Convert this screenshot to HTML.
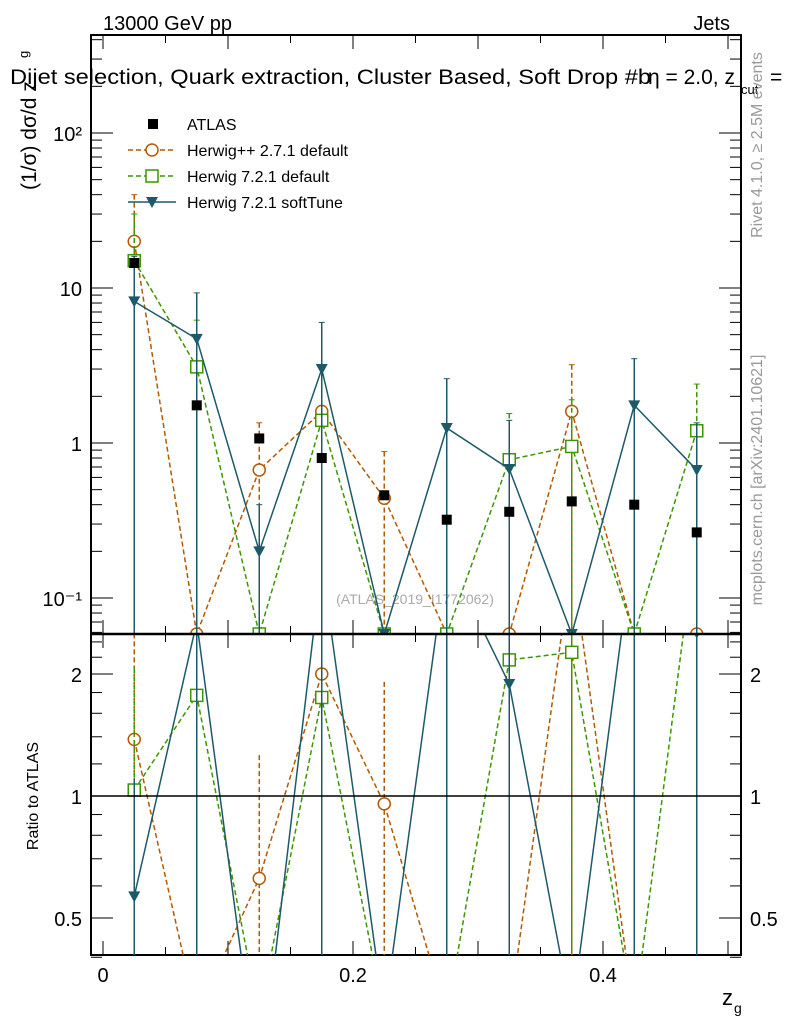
<!DOCTYPE html>
<html><head><meta charset="utf-8"><style>
html,body{margin:0;padding:0;background:#fff;overflow:hidden;width:786px;height:1024px;}
svg{display:block;font-family:"Liberation Sans",sans-serif;}
</style></head><body>
<svg id="c" width="786" height="1024" xmlns="http://www.w3.org/2000/svg"></svg>
<script>
const binCenters=[0.025,0.075,0.125,0.175,0.225,0.275,0.325,0.375,0.425,0.475];
const atlasVals=[14.5,1.75,1.07,0.8,0.46,0.32,0.36,0.42,0.40,0.265];
const hppVals=[20,0,0.67,1.6,0.44,0,0,1.6,0,0];
const hppErrUp=[40,0,1.35,1.6,0.88,0,0,3.2,0,0];
const h7Vals=[15,3.1,0,1.4,0,0,0.78,0.95,0,1.2];
const h7ErrUp=[30,6.2,0,1.4,0,0,1.55,1.9,0,2.4];
const softVals=[8.2,4.7,0.2,3.0,0,1.25,0.68,0,1.75,0.67];
const softErrUp=[16,9.3,0.4,6.0,0,2.6,1.4,0,3.5,1.35];
const xTicks=[0,0.2,0.4];
const yTicks=[[0.1,"10\u207B\u00B9"],[1,"1"],[10,"10"],[100,"10\u00B2"]];
const rTicks=[0.5,1,2];

const NS="http://www.w3.org/2000/svg";
const svg=document.getElementById('c');
const L=91,R=741,T=35,MB=634,RB=955;
const X=v=>103+(v)*1250;
const Y=v=>443-155*Math.log10(v);
const Yr=v=>796-122*Math.log2(v);
function el(tag,attrs,parent){const e=document.createElementNS(NS,tag);for(const k in attrs)e.setAttribute(k,attrs[k]);(parent||svg).appendChild(e);return e;}
function txt(s,attrs,parent){const e=el('text',attrs,parent);e.textContent=s;return e;}

const defs=el('defs',{});
const c1=el('clipPath',{id:'cm'},defs);el('rect',{x:L,y:T,width:R-L,height:MB-T},c1);
const c2=el('clipPath',{id:'cr'},defs);el('rect',{x:L,y:MB,width:R-L,height:RB-MB},c2);
const c3=el('clipPath',{id:'cp'},defs);el('rect',{x:0,y:0,width:786,height:1024},c3);

let t=txt("13000 GeV pp",{x:103,y:30,'font-size':20});

t=txt("Jets",{x:730,y:30,'font-size':20,'text-anchor':'end'});

const tg=el('g',{'clip-path':'url(#cp)'});
t=txt("Dijet selection, Quark extraction, Cluster Based, Soft Drop #b",{x:10,y:84,'font-size':21,textLength:641,lengthAdjust:'spacingAndGlyphs'},tg);

t=txt("\u03B7 = 2.0, z",{x:648,y:84,'font-size':21},tg);

t=txt("cut",{x:741,y:94,'font-size':13},tg);

t=txt("=",{x:770,y:84,'font-size':21},tg);

t=txt("(1/\u03C3) d\u03C3/d z",{x:0,y:0,'font-size':21,transform:'translate(36,190) rotate(-90)'});

t=txt("g",{x:0,y:0,'font-size':13,transform:'translate(28,58) rotate(-90)'});

t=txt("Rivet 4.1.0, \u2265 2.5M events",{x:0,y:0,'font-size':16,fill:'#999','text-anchor':'middle',transform:'translate(762,145) rotate(-90)'});

t=txt("mcplots.cern.ch [arXiv:2401.10621]",{x:0,y:0,'font-size':16,fill:'#999','text-anchor':'middle',transform:'translate(762,480) rotate(-90)'});

t=txt("(ATLAS_2019_I1772062)",{x:415,y:604,'font-size':14,fill:'#aaa','text-anchor':'middle'});

t=txt("Ratio to ATLAS",{x:0,y:0,'font-size':16,'text-anchor':'middle',transform:'translate(38,796) rotate(-90)'});

t=txt("z",{x:722,y:1005,'font-size':22});

txt("g",{x:734,y:1013,'font-size':14});

let f=el('rect',{x:L,y:T,width:R-L,height:MB-T,fill:'none',stroke:'#000','stroke-width':2});

f=el('rect',{x:L,y:MB,width:R-L,height:RB-MB,fill:'none',stroke:'#000','stroke-width':2});


for(let v=0;v<=0.5001;v+=0.05){
  const x=X(v),major=Math.abs((v*10)-Math.round(v*10))<1e-6,len=major?14:8;
  [[T,1],[MB,-1],[MB,1],[RB,-1]].forEach(([y0,d])=>el('line',{x1:x,x2:x,y1:y0,y2:y0+d*len,stroke:'#000'}));
}
xTicks.forEach(v=>{const e=txt(v===0?"0":String(v),{x:X(v),y:982,'font-size':20,'text-anchor':'middle'});
});
for(let d=-2;d<=2;d++)for(let m=1;m<10;m++){const v=m*Math.pow(10,d),y=Y(v);if(y<T||y>MB)continue;
  const len=m===1?22:11;el('line',{x1:L,x2:L+len,y1:y,y2:y,stroke:'#000'});el('line',{x1:R,x2:R-len,y1:y,y2:y,stroke:'#000'});}
yTicks.forEach(([v,s])=>{const e=txt(s,{x:82,y:Y(v)+8,'font-size':20,'text-anchor':'end'});
});
[0.4,0.5,0.6,0.7,0.8,0.9,1,1.2,1.4,1.6,1.8,2,2.2,2.4].forEach(v=>{const y=Yr(v);const len=rTicks.includes(v)?22:11;
  el('line',{x1:L,x2:L+len,y1:y,y2:y,stroke:'#000'});el('line',{x1:R,x2:R-len,y1:y,y2:y,stroke:'#000'});});
rTicks.forEach(v=>{const y=Yr(v);
  let e=txt(String(v),{x:82,y:y+8,'font-size':20,'text-anchor':'end'});
  e=txt(String(v),{x:750,y:y+8,'font-size':20});});

const gm=el('g',{'clip-path':'url(#cm)'});
const gr=el('g',{'clip-path':'url(#cr)'});
const ym=v=>v>0?Math.min(Y(v),MB):MB;
const yr=v=>v>0?Yr(v):RB+60;

function marker(g,type,x,y,col){
  let m;
  if(type==='circle')m=el('circle',{cx:x,cy:y,r:6,fill:'#fff',stroke:col,'stroke-width':1.5},g);
  else if(type==='square')m=el('rect',{x:x-6,y:y-6,width:12,height:12,fill:'#fff',stroke:col,'stroke-width':1.5},g);
  else if(type==='tri')m=el('path',{d:`M${x-6} ${y-5}L${x+6} ${y-5}L${x} ${y+6}Z`,fill:col},g);
  else m=el('rect',{x:x-5,y:y-5,width:10,height:10,fill:col},g);
  return m;
}
const series=[
  {name:'herwigpp',vals:hppVals,err:hppErrUp,col:'#b35900',dash:'5,3',mk:'circle'},
  {name:'herwig7-default',vals:h7Vals,err:h7ErrUp,col:'#3c9600',dash:'5,3',mk:'square'},
  {name:'herwig7-softtune',vals:softVals,err:softErrUp,col:'#1c5a6a',dash:'',mk:'tri'}];
series.forEach(s=>{
  const pts=s.vals.map((v,i)=>X(binCenters[i])+','+ym(v)).join(' ');
  let p=el('polyline',{points:pts,fill:'none',stroke:s.col,'stroke-width':1.5,'stroke-dasharray':s.dash},gm);
  
  const rpts=s.vals.map((v,i)=>X(binCenters[i])+','+yr(v/atlasVals[i])).join(' ');
  p=el('polyline',{points:rpts,fill:'none',stroke:s.col,'stroke-width':1.5,'stroke-dasharray':s.dash},gr);
  
  s.vals.forEach((v,i)=>{const x=X(binCenters[i]);
    if(s.err[i]>0){el('line',{x1:x,x2:x,y1:ym(s.err[i]),y2:MB,stroke:s.col,'stroke-width':1.5,'stroke-dasharray':s.dash},gm);
      el('line',{x1:x-3,x2:x+3,y1:ym(s.err[i]),y2:ym(s.err[i]),stroke:s.col},gm);
      el('line',{x1:x,x2:x,y1:yr(s.err[i]/atlasVals[i]),y2:RB,stroke:s.col,'stroke-width':1.5,'stroke-dasharray':s.dash},gr);}
    let m=marker(gm,s.mk,x,ym(v),s.col);
    
    const r=v/atlasVals[i];
    if(r>0){m=marker(gr,s.mk,x,yr(r),s.col);}
  });
});
atlasVals.forEach((v,i)=>{const m=marker(gm,'sq',X(binCenters[i]),Y(v),'#000');
});
el('line',{x1:L,x2:R,y1:Yr(1),y2:Yr(1),stroke:'#000','stroke-width':1.5});
el('line',{x1:L,x2:R,y1:MB,y2:MB,stroke:'#000','stroke-width':2.5});

const lg=el('g',{});
marker(lg,'sq',153,124,'#000');txt("ATLAS",{x:187,y:130,'font-size':16},lg);
const le=[['Herwig++ 2.7.1 default','#b35900','5,3','circle'],['Herwig 7.2.1 default','#3c9600','5,3','square'],['Herwig 7.2.1 softTune','#1c5a6a','','tri']];
le.forEach((e,i)=>{const y=150+i*26;const g=el('g',{},lg);
  
  el('line',{x1:128,x2:176,y1:y,y2:y,stroke:e[1],'stroke-width':1.5,'stroke-dasharray':e[2]},g);
  marker(g,e[3],152,y,e[1]);txt(e[0],{x:187,y:y+6,'font-size':16},g);});
</script>
</body></html>
